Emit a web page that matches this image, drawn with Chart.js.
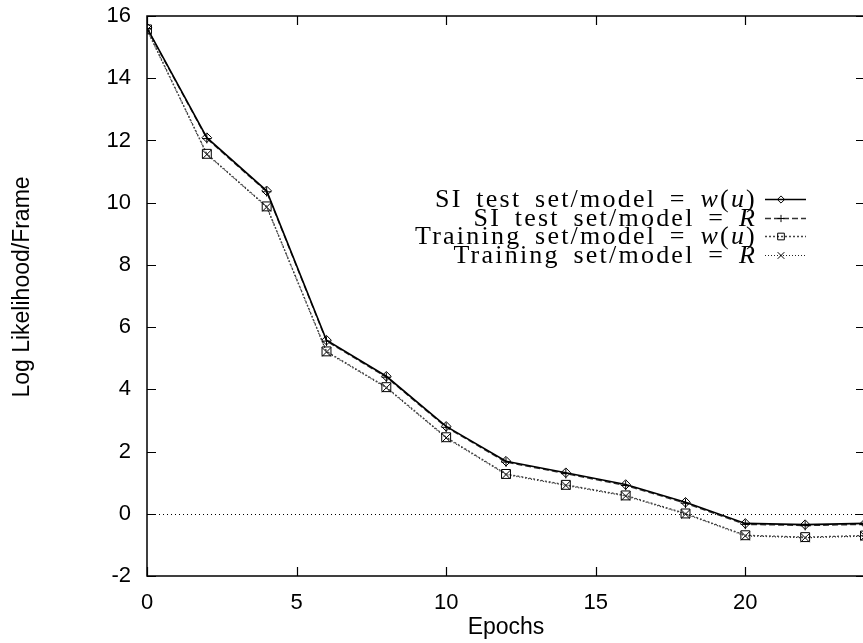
<!DOCTYPE html>
<html>
<head>
<meta charset="utf-8">
<script src="https://cdn.jsdelivr.net/npm/chart.js@4.4.1/dist/chart.umd.min.js"></script>
<style>
  html, body { margin: 0; padding: 0; background: #fff; overflow: hidden; }
  #wrap { position: absolute; left: 0; top: 0; width: 880px; height: 643px; }
</style>
</head>
<body>
<div id="wrap"><canvas id="chart" width="880" height="643"></canvas></div>
<script>
const epochs = [0, 2, 4, 6, 8, 10, 12, 14, 16, 18, 20, 22, 24]
const siTestWu = [15.62, 12.09, 10.38, 5.58, 4.42, 2.81, 1.69, 1.32, 0.94, 0.37, -0.31, -0.35, -0.31]
const siTestR = [15.6, 12.06, 10.35, 5.55, 4.39, 2.78, 1.66, 1.29, 0.91, 0.34, -0.34, -0.38, -0.34]
const trainWu = [15.57, 11.57, 9.88, 5.22, 4.07, 2.46, 1.28, 0.93, 0.59, 0.01, -0.69, -0.75, -0.70]
const trainR = [15.55, 11.55, 9.86, 5.2, 4.05, 2.44, 1.26, 0.91, 0.57, -0.01, -0.71, -0.77, -0.72]

const xTicks = [0, 5, 10, 15, 20]
const yTicks = [-2, 0, 2, 4, 6, 8, 10, 12, 14, 16]

// legend rows: [text, italic?] pieces
const legendRows = [
    [['SI test set/model = ', 0], ['w', 1], ['(', 0], ['u', 1], [')', 0]],
    [['SI test set/model = ', 0], ['R', 1]],
    [['Training set/model = ', 0], ['w', 1], ['(', 0], ['u', 1], [')', 0]],
    [['Training set/model = ', 0], ['R', 1]]
]

const series = [
    { label: 'SI test set/model = w(u)', data: siTestWu, color: '#000', dash: [], width: 1.6, point: 'rectRot', radius: 4.8 },
    { label: 'SI test set/model = R', data: siTestR, color: '#333', dash: [6, 3], width: 1.3, point: 'cross', radius: 4.8 },
    { label: 'Training set/model = w(u)', data: trainWu, color: '#444', dash: [2, 2], width: 1.3, point: 'rect', radius: 6.3 },
    { label: 'Training set/model = R', data: trainR, color: '#222', dash: [1, 2], width: 1.2, point: 'crossRot', radius: 6.3 }
]

const sansFamily = '"Liberation Sans", Arial, sans-serif'
const serifFamily = '"Liberation Serif", "Times New Roman", serif'
const serifSize = 26

function legendFont(italic) {
    return (italic ? 'italic ' : '') + serifSize + 'px ' + serifFamily
}

function rowWidth(ctx, row) {
    let total = 0
    row.forEach(seg => {
        ctx.font = legendFont(seg[1])
        total += ctx.measureText(seg[0]).width
    })
    return total
}

const gnuplotFrame = {
    id: 'gnuplotFrame',
    beforeDatasetsDraw(chart) {
        const ctx = chart.ctx
        const area = chart.chartArea
        const y = chart.scales.y
        ctx.save()
        // dotted zero line
        ctx.strokeStyle = '#000'
        ctx.lineWidth = 1
        ctx.setLineDash([1, 3])
        const y0 = Math.round(y.getPixelForValue(0)) + 0.5
        ctx.beginPath()
        ctx.moveTo(area.left, y0)
        ctx.lineTo(area.right, y0)
        ctx.stroke()
        ctx.restore()
    },
    afterDraw(chart) {
        const ctx = chart.ctx
        const area = chart.chartArea
        const x = chart.scales.x
        const y = chart.scales.y
        ctx.save()
        ctx.strokeStyle = '#000'
        ctx.lineWidth = 1.5
        ctx.strokeRect(area.left, area.top, area.right - area.left, area.bottom - area.top)

        // inward ticks on all sides
        const tl = 9
        ctx.lineWidth = 1.2
        ctx.beginPath()
        xTicks.forEach(v => {
            const px = Math.round(x.getPixelForValue(v)) + 0.5
            ctx.moveTo(px, area.bottom)
            ctx.lineTo(px, area.bottom - tl)
            ctx.moveTo(px, area.top)
            ctx.lineTo(px, area.top + tl)
        })
        yTicks.forEach(v => {
            const py = Math.round(y.getPixelForValue(v)) + 0.5
            ctx.moveTo(area.left, py)
            ctx.lineTo(area.left + tl, py)
            ctx.moveTo(area.right, py)
            ctx.lineTo(area.right - tl, py)
        })
        ctx.stroke()

        // axis titles
        ctx.fillStyle = '#000'
        ctx.font = '23px ' + sansFamily
        ctx.textAlign = 'center'
        ctx.textBaseline = 'alphabetic'
        ctx.fillText('Epochs', (area.left + area.right) / 2, 634)
        ctx.save()
        ctx.translate(29, 287)
        ctx.rotate(-Math.PI / 2)
        ctx.fillText('Log Likelihood/Frame', 0, 0)
        ctx.restore()

        // legend, right aligned like gnuplot's key
        const textRight = 757
        const rowY = [199, 217.5, 236, 254.5]
        ctx.textAlign = 'left'
        ctx.wordSpacing = '5px'
        ctx.letterSpacing = '0px'
        const w0 = rowWidth(ctx, legendRows[0])
        const spacing = Math.max(0, (322 - w0) / 24)
        ctx.letterSpacing = spacing.toFixed(2) + 'px'

        legendRows.forEach((row, i) => {
            let cx = textRight - rowWidth(ctx, row)
            const yy = rowY[i] + 8
            row.forEach(seg => {
                ctx.font = legendFont(seg[1])
                ctx.fillText(seg[0], cx, yy)
                cx += ctx.measureText(seg[0]).width
            })

            const s = series[i]
            const ly = Math.round(rowY[i]) + 0.5
            ctx.save()
            ctx.strokeStyle = s.color
            ctx.lineWidth = s.width
            ctx.setLineDash(s.dash)
            ctx.beginPath()
            ctx.moveTo(765, ly)
            ctx.lineTo(806, ly)
            ctx.stroke()
            ctx.setLineDash([])
            ctx.lineWidth = 1
            ctx.strokeStyle = '#000'
            ctx.fillStyle = 'rgba(0,0,0,0)'
            Chart.helpers.drawPoint(ctx, { pointStyle: s.point, radius: s.radius * 0.75, rotation: 0, borderWidth: 1 }, 781, ly)
            ctx.restore()
        })
        ctx.letterSpacing = '0px'
        ctx.wordSpacing = '0px'
        ctx.restore()
    }
}

const ctx = document.getElementById('chart')
const chart = new Chart(ctx, {
    type: 'line',
    data: {
        datasets: series.map(s => ({
            label: s.label,
            data: epochs.map((e, i) => ({ x: e, y: s.data[i] })),
            borderColor: s.color,
            borderWidth: s.width,
            borderDash: s.dash,
            pointStyle: s.point,
            pointRadius: s.radius,
            pointBorderColor: '#000',
            pointBorderWidth: 1,
            pointBackgroundColor: 'rgba(0,0,0,0)',
            tension: 0,
            fill: false
        }))
    },
    options: {
        responsive: false,
        animation: false,
        devicePixelRatio: 1,
        layout: { padding: { left: 0, right: 15, top: 16, bottom: 0 } },
        plugins: {
            legend: { display: false },
            tooltip: { enabled: false }
        },
        scales: {
            x: {
                type: 'linear',
                min: 0,
                max: 24,
                grid: { display: false, drawTicks: false },
                border: { display: false },
                ticks: {
                    stepSize: 5,
                    includeBounds: false,
                    padding: 14,
                    color: '#000',
                    font: { family: sansFamily, size: 22 }
                },
                afterFit: scale => {
                    scale.height = 67
                    scale.paddingLeft = 0
                    scale.paddingRight = 0
                }
            },
            y: {
                min: -2,
                max: 16,
                grid: { display: false, drawTicks: false },
                border: { display: false },
                ticks: {
                    stepSize: 2,
                    padding: 16,
                    color: '#000',
                    font: { family: sansFamily, size: 22 }
                },
                afterFit: scale => {
                    scale.width = 147
                    scale.paddingTop = 0
                    scale.paddingBottom = 0
                }
            }
        }
    },
    plugins: [gnuplotFrame]
})
</script>
</body>
</html>
